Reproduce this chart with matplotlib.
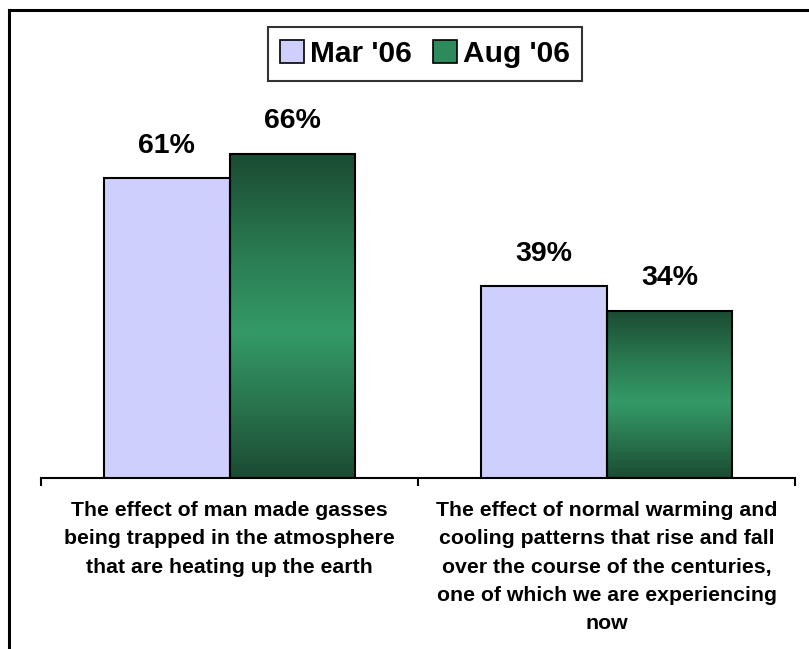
import matplotlib
matplotlib.use("Agg")
import matplotlib.pyplot as plt
from matplotlib.colors import LinearSegmentedColormap
from matplotlib.patches import Patch
from matplotlib.lines import Line2D
import numpy as np

plt.rcParams['font.family'] = ['Liberation Sans', 'DejaVu Sans']

categories = ["The effect of man made gasses\nbeing trapped in the atmosphere\nthat are heating up the earth",
              "The effect of normal warming and\ncooling patterns that rise and fall\nover the course of the centuries,\none of which we are experiencing\nnow"]
series_names = ["Mar '06", "Aug '06"]
mar06 = [61, 39]
aug06 = [66, 34]

mar_color = "#cfcffe"
green_cmap = LinearSegmentedColormap.from_list(
    "grn", [(0.0, "#1b4b33"), (0.3, "#2a7a51"), (0.55, "#349a67"),
            (0.8, "#28704b"), (1.0, "#1b4b33")])

fig = plt.figure(figsize=(8.09, 6.49), dpi=100)
ax = fig.add_axes([0.0507, 0.2635, 0.932, 0.606])

x = np.arange(len(categories))
w = 0.334
bars1 = ax.bar(x - w / 2, mar06, w, color=mar_color, edgecolor="black", linewidth=1.5, zorder=3)
bars2 = ax.bar(x + w / 2, aug06, w, facecolor="none", edgecolor="black", linewidth=1.5, zorder=4)

grad = np.linspace(0, 1, 256).reshape(-1, 1)
for b in bars2:
    bx, by, bw, bh = b.get_x(), b.get_y(), b.get_width(), b.get_height()
    im = ax.imshow(grad, cmap=green_cmap, aspect="auto", extent=[bx, bx + bw, by, by + bh],
                   origin="upper", zorder=2)
    im.set_clip_path(b)

for bars, vals in [(bars1, mar06), (bars2, aug06)]:
    for b, v in zip(bars, vals):
        ax.annotate(f"{v}%", (b.get_x() + b.get_width() / 2, v), xytext=(0, 14),
                    textcoords="offset points", ha="center", va="bottom",
                    fontsize=20.5, fontweight="bold")

ax.set_xlim(-0.5, 1.5)
ax.set_ylim(0, 80)
for s in ["top", "right", "left"]:
    ax.spines[s].set_visible(False)
ax.spines["bottom"].set_linewidth(1.5)
ax.set_yticks([])
ax.set_xticks(x)
ax.set_xticklabels(categories, fontsize=15.3, fontweight="bold", linespacing=1.62)
ax.tick_params(axis="x", which="major", length=0, pad=16.5)
ax.set_xticks([-0.5, 0.5, 1.5], minor=True)
ax.tick_params(axis="x", which="minor", length=6, width=1.5, direction="out")

handles = [Patch(facecolor=mar_color, edgecolor="black", linewidth=1.2),
           Patch(facecolor="#2e8a5a", edgecolor="black", linewidth=1.2)]
leg = fig.legend(handles, series_names, loc="center", bbox_to_anchor=(425 / 809, 1 - 54 / 649),
                 ncol=2, frameon=True, fancybox=False, edgecolor="black",
                 prop={"size": 21.5, "weight": "bold"}, handlelength=0.8, handleheight=0.8,
                 handletextpad=0.2, columnspacing=0.7, borderpad=0.42, borderaxespad=0)
leg.get_frame().set_linewidth(1.5)

# outer frame (left and top edges)
fig.add_artist(Line2D([9 / 809, 9 / 809], [0, 1 - 10 / 649], transform=fig.transFigure,
                      color="black", linewidth=2.2))
fig.add_artist(Line2D([9 / 809, 1], [1 - 10 / 649, 1 - 10 / 649], transform=fig.transFigure,
                      color="black", linewidth=2.2))

fig.savefig("out.png", dpi=100)
